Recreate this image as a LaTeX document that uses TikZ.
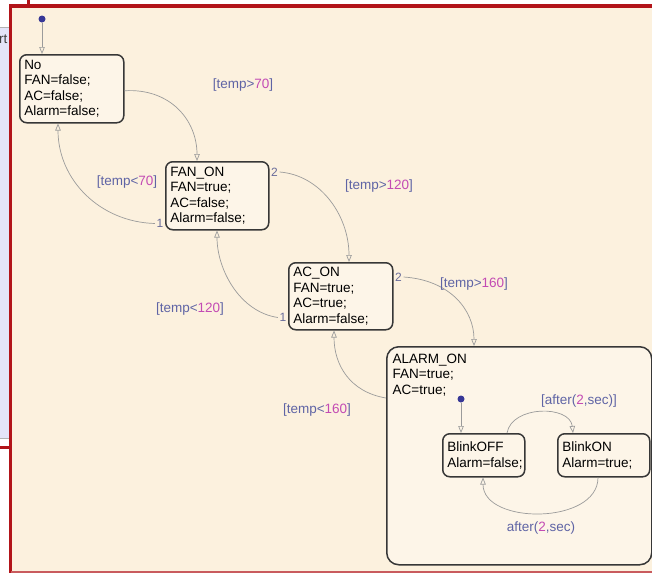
\documentclass[tikz,border=0pt]{standalone}
\usepackage{fontspec}
\setmainfont{Liberation Sans}
\usepackage{xcolor}
\usepackage{tikz}
\usetikzlibrary{arrows.meta}

\definecolor{chartbg}{RGB}{252,241,222}
\definecolor{boxfill}{RGB}{253,245,232}
\definecolor{boxline}{RGB}{55,55,55}
\definecolor{framered}{RGB}{178,20,25}
\definecolor{transgray}{RGB}{155,155,155}
\definecolor{condblue}{RGB}{95,100,165}
\definecolor{numpink}{RGB}{195,75,180}
\definecolor{dotblue}{RGB}{55,55,150}
\definecolor{panel}{RGB}{228,228,248}

\newcommand{\pk}[1]{\textcolor{numpink}{#1}}

\begin{document}
\begin{tikzpicture}[x=1pt, y=-1pt,
  state/.style={draw=boxline, line width=1.5pt, fill=boxfill, rounded corners=7pt,
    anchor=north west, align=left, inner xsep=4.5pt, inner ysep=0pt,
    font=\fontsize{13.5}{15.5}\selectfont},
  trans/.style={draw=transgray, line width=0.7pt, -{Triangle[open, length=7pt, width=5.5pt]}},
  cond/.style={text=condblue, inner sep=0pt, font=\fontsize{13.5}{15.5}\selectfont},
  prio/.style={text=condblue!70!gray, inner sep=1.5pt, font=\fontsize{12}{14}\selectfont},
  dflt/.style={fill=dotblue, circle, inner sep=0pt, minimum size=7pt}]
\useasboundingbox (0,0) rectangle (652,573);
\fill[white] (0,0) rectangle (652,573);
% side panel, partly hidden
\fill[panel] (0,27) rectangle (10,438);
\draw[gray!60] (0,27) -- (10,27) (0,438) -- (10,438);
\node[anchor=east, inner sep=0pt, text=black!75, font=\fontsize{13.5}{15.5}\selectfont] (paneltext) at (7.5,39) {rt};
% chart area
\fill[chartbg] (10.5,6) rectangle (652,571);
\draw[framered, line width=3.5pt] (652,6) -- (10.5,6) -- (10.5,573);
\draw[framered!70, line width=2pt] (10.5,571.5) -- (652,571.5);
\draw[framered, line width=3.5pt] (28.5,0) -- (28.5,6);
\draw[framered, line width=3pt] (0,447) -- (10.5,447);

% states
\node[state, text width=95pt, minimum height=68pt] (no) at (19,54) {No\\FAN=false;\\AC=false;\\Alarm=false;};
\node[state, text width=94pt, minimum height=68pt] (fanon) at (165,161) {FAN\_ON\\FAN=true;\\AC=false;\\Alarm=false;};
\node[state, text width=95pt, minimum height=67pt] (acon) at (288,262) {AC\_ON\\FAN=true;\\AC=true;\\Alarm=false;};
\node[state, rounded corners=12pt, minimum width=265pt, minimum height=218pt] (alarm) at (386,346) {};
\node[anchor=north west, align=left, inner sep=0pt, font=\fontsize{13.5}{15.5}\selectfont] (alarmtxt) at ([xshift=6.5pt,yshift=-7.5pt]alarm.north west) {ALARM\_ON\\FAN=true;\\AC=true;};
\node[state, text width=73pt, minimum height=43pt] (blinkoff) at (442,433) {BlinkOFF\\Alarm=false;};
\node[state, text width=83pt, minimum height=43pt] (blinkon) at (557,433) {BlinkON\\Alarm=true;};

% default transitions
\node[dflt] (init) at (42,19) {};
\draw[trans] (init) -- (init |- no.north);
\node[dflt] (blinkinit) at (461,399) {};
\draw[trans] (blinkinit) -- (blinkinit |- blinkoff.north);

% execution order numbers
\node[prio, anchor=east] (p1fan) at ([yshift=7pt]fanon.south west) {1};
\node[prio, anchor=west] (p2fan) at ([yshift=-11pt]fanon.north east) {2};
\node[prio, anchor=east] (p1ac) at ([yshift=13pt]acon.south west) {1};
\node[prio, anchor=west] (p2ac) at ([yshift=-15pt]acon.north east) {2};

% transitions
\draw[trans] ([yshift=-2pt]no.east) .. controls (170,88) and (197,120) .. ([xshift=32pt]fanon.north west);
\draw[trans] (p1fan.west) .. controls (100,222) and (58,180) .. ([xshift=39pt]no.south west);
\draw[trans] (p2fan.east) .. controls (320,175) and (349,215) .. ([xshift=61pt]acon.north west);
\draw[trans] (p1ac.west) .. controls (240,312) and (217,270) .. ([xshift=52pt]fanon.south west);
\draw[trans] (p2ac.east) .. controls (450,280) and (474,310) .. ([xshift=88pt]alarm.north west);
\draw[trans] ([yshift=-52pt]alarm.north west) .. controls (350,392) and (334,365) .. ([xshift=46pt]acon.south west);
\draw[trans] ([xshift=65pt]blinkoff.north west) .. controls (512,405) and (570,405) .. ([xshift=16pt]blinkon.north west);
\draw[trans] ([xshift=41pt]blinkon.south west) .. controls (598,525) and (483,525) .. ([xshift=41pt]blinkoff.south west);

% conditions
\node[cond] (c70up) at (243,85) {[temp>\pk{70}]};
\node[cond] (c70dn) at (127,182) {[temp<\pk{70}]};
\node[cond] (c120up) at (379,186) {[temp>\pk{120}]};
\node[cond] (c120dn) at (190,309) {[temp<\pk{120}]};
\node[cond] (c160up) at (474,284) {[temp>\pk{160}]};
\node[cond] (c160dn) at (317,410) {[temp<\pk{160}]};
\node[cond] (aftup) at (579,401) {[after(\pk{2},sec)]};
\node[cond] (aftdn) at (541,528) {after(\pk{2},sec)};
\end{tikzpicture}
\end{document}
